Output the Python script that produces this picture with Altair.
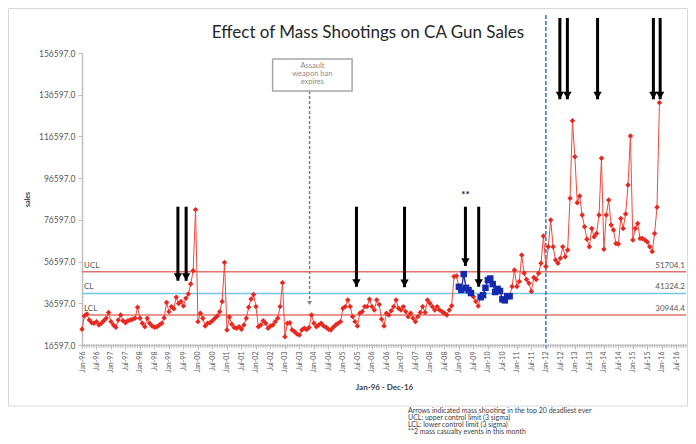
import altair as alt
import pandas as pd

# ---------------- data (monthly CA gun sales, thousands) ----------------
SALES_K = [
    # 1996
    24.1, 30.5, 31.5, 28.6, 27.3, 27.0, 27.8, 26.2, 27.0, 28.2, 29.4, 32.2,
    # 1997
    27.8, 26.2, 25.1, 28.6, 31.0, 28.2, 27.3, 28.2, 28.6, 28.9, 29.4, 34.7,
    # 1998
    29.4, 27.0, 25.4, 29.4, 27.0, 25.7, 25.1, 25.4, 26.2, 27.0, 29.5, 37.0,
    # 1999
    32.5, 35.0, 34.0, 39.5, 36.5, 37.5, 35.3, 39.0, 41.0, 45.8, 52.2, 81.5,
    # 2000
    27.8, 31.8, 29.4, 25.7, 27.0, 27.3, 28.2, 29.4, 30.5, 32.5, 37.5, 56.1,
    # 2001
    23.8, 30.0, 26.5, 25.0, 24.6, 25.4, 24.1, 26.2, 29.4, 34.7, 38.7, 40.8,
    # 2002
    35.0, 25.4, 26.2, 28.2, 27.0, 24.6, 25.7, 26.2, 27.8, 29.4, 35.0, 46.4,
    # 2003
    20.6, 27.0, 27.3, 23.8, 23.0, 21.9, 21.4, 23.8, 24.6, 24.0, 25.0, 31.0,
    # 2004
    27.0, 25.4, 26.2, 27.0, 25.7, 25.1, 24.1, 23.8, 25.1, 26.2, 27.0, 27.8,
    # 2005
    34.2, 35.0, 38.2, 35.0, 30.2, 27.8, 25.7, 31.8, 32.6, 35.0, 35.0, 38.5,
    # 2006
    35.0, 33.4, 38.2, 36.0, 29.0, 25.7, 31.8, 31.0, 33.0, 35.0, 38.2, 34.2,
    # 2007
    33.4, 35.0, 32.6, 30.2, 31.8, 29.4, 27.8, 30.2, 32.2, 35.0, 32.2, 38.2,
    # 2008
    36.6, 35.0, 33.4, 35.0, 33.4, 32.6, 31.8, 31.0, 33.4, 35.4, 49.4, 49.7,
    # 2009
    44.5, 43.0, 50.6, 44.0, 42.9, 41.5, 39.7, 37.4, 35.3, 39.5, 40.5, 44.0,
    # 2010
    47.7, 48.5, 45.8, 42.0, 43.5, 42.5, 38.5, 38.0, 40.0, 40.0, 44.6, 52.6,
    # 2011
    44.6, 47.0, 59.7, 51.0, 48.0, 46.2, 42.2, 49.0, 48.0, 51.0, 55.8, 68.9,
    # 2012
    54.2, 63.7, 76.5, 63.7, 57.4, 55.8, 58.2, 63.7, 58.9, 62.1, 86.9, 124.1,
    # 2013
    106.9, 84.8, 88.0, 78.9, 73.3, 67.3, 63.7, 72.5, 68.5, 70.1, 78.9, 106.1,
    # 2014
    62.5, 78.9, 86.1, 74.1, 71.7, 65.3, 65.0, 77.3, 72.5, 79.4, 93.3, 116.8,
    # 2015
    66.9, 72.5, 74.9, 67.7, 67.7, 66.9, 66.0, 63.7, 61.4, 70.1, 82.6, 132.8,
]

# runs of special-cause points (blue squares): (first month index, last month index)
BLUE_RUNS = [(156, 161), (165, 177)]

# control limits
LIMIT_NAMES = ["UCL", "CL", "LCL"]
LIMIT_VALUES = [51704.1, 41324.2, 30944.4]
LIMIT_COLORS = ["#e2736b", "#72c8e6", "#e2736b"]

# x tick labels every 6 months from Jan-96 to Jul-16
TICK_LABELS = [f"{m}-{y % 100:02d}" for y in range(1996, 2017) for m in ("Jan", "Jul")]
Y_TICKS = [16597, 36597, 56597, 76597, 96597, 116597, 136597, 156597]

# mass shooting arrows: month index, arrow top value, arrow tip value
ARROW_MONTH = [39.7, 43.1, 113.6, 133.5, 158.7, 164.2, 197.8, 200.9, 213.4, 236.5, 239.3]
ARROW_TOP = [82900, 82900, 82900, 82900, 82900, 82900, 173400, 173400, 173400, 173400, 173400]
ARROW_TIP = [47400, 47400, 44500, 44300, 54500, 44500, 134400, 134400, 134400, 134400, 134400]

# "assault weapon ban expires" annotation
AWB_MONTH = 94.2
AWB_BOX = [78.9, 111.8, 153700, 138400]   # x1, x2, y1, y2 (data space)
AWB_TEXT_TOP = 152300
AWB_TIP = 35800
AWB_TEXT = ["Assault", "weapon ban", "expires"]

JAN12 = 192
NOTES = [
    "Arrows indicated mass shooting in the top 20 deadliest ever",
    "UCL: upper control limit (3 sigma)",
    "LCL: lower control limit (3 sigma)",
    "**2 mass casualty events in this month",
]

# ---------------- tables ----------------
df = pd.DataFrame({"m": range(len(SALES_K)), "sales": [v * 1000 for v in SALES_K]})
df["run"] = -1
for k, (a, b) in enumerate(BLUE_RUNS):
    df.loc[(df.m >= a) & (df.m <= b), "run"] = k
df["blue"] = df.run >= 0

lim = pd.DataFrame({"name": LIMIT_NAMES, "value": LIMIT_VALUES, "color": LIMIT_COLORS,
                    "label": [f"{v:.1f}" for v in LIMIT_VALUES]})
arrows = pd.DataFrame({"m": ARROW_MONTH, "top": ARROW_TOP, "tip": ARROW_TIP})
months = pd.DataFrame({"m": list(range(0, 251))})

W, H = 604, 292
FONT = "Lato"
XS = alt.Scale(domain=[0, 250], nice=False, zero=False)
YS = alt.Scale(domain=[16597, 156597], nice=False, zero=False)

label_expr = "[" + ",".join(f"'{t}'" for t in TICK_LABELS) + "][floor(datum.value/6)]"

XA = alt.Axis(values=list(range(0, 247, 6)), labelExpr=label_expr, labelAngle=270,
              labelFont=FONT, labelFontSize=7, labelColor="#595959", labelPadding=2,
              tickSize=4, tickColor="#bfbfbf", domainColor="#bfbfbf", domainWidth=1.5,
              grid=False, title="Jan-96 - Dec-16", titleFont=FONT, titleFontSize=8,
              titleFontWeight="bold", titleColor="#404040", titleY=42,
              titleBaseline="middle")
YA = alt.Axis(values=Y_TICKS, format=".1f", labelFont=FONT, labelFontSize=8.5,
              labelColor="#595959", labelPadding=3, tickSize=4, tickColor="#bfbfbf",
              domainColor="#bfbfbf", domainWidth=1.5, grid=False, title="sales",
              titleFont=FONT, titleFontSize=7, titleFontWeight="bold",
              titleColor="#404040", titleX=-55, titleY=H / 2, titleAngle=270,
              titleAlign="center", titleBaseline="middle")


def X(field):
    return alt.X(field, type="quantitative", scale=XS, axis=XA)


def Y(field):
    return alt.Y(field, type="quantitative", scale=YS, axis=YA)


one = pd.DataFrame({"a": [0]})

frame = alt.Chart(one).mark_rect(fill=None, stroke="#d9d9d9", strokeWidth=1).encode(
    x=alt.value(-73.5), x2=alt.value(W + 1.5), y=alt.value(-44.5), y2=alt.value(353)
)

limit_rules = alt.Chart(lim).mark_rule(strokeWidth=1.5).encode(
    y=Y("value"), color=alt.Color("color:N", scale=None)
)
limit_left = alt.Chart(lim).mark_text(align="left", baseline="middle", dx=2, dy=-6,
                                      font=FONT, fontSize=8, color="#595959").encode(
    x=alt.value(0), y=Y("value"), text="name:N")
limit_right = alt.Chart(lim).mark_text(align="right", baseline="middle", dx=-1, dy=-6,
                                       font=FONT, fontSize=8, color="#595959").encode(
    x=alt.value(W), y=Y("value"), text="label:N")

vline = alt.Chart(pd.DataFrame({"m": [JAN12], "y1": [174800], "y2": [15000]})).mark_rule(
    color="#3f7fc0", strokeWidth=1.6, strokeDash=[4, 2]
).encode(x=X("m"), y=Y("y1"), y2="y2")

red_line = alt.Chart(df).mark_line(color="#f0493e", strokeWidth=1).encode(
    x=X("m"), y=Y("sales"))

blue_line = alt.Chart(df).transform_filter("datum.blue").mark_line(
    color="#1b2fb5", strokeWidth=1.2).encode(x=X("m"), y=Y("sales"), detail="run:N")

red_pts = alt.Chart(df).transform_filter("!datum.blue").mark_point(
    shape="diamond", filled=True, size=30, color="#e8281e", opacity=1).encode(
    x=X("m"), y=Y("sales"))
blue_pts = alt.Chart(df).transform_filter("datum.blue").mark_point(
    shape="square", filled=True, size=42, color="#1329b0", opacity=1).encode(
    x=X("m"), y=Y("sales"))

month_ticks = alt.Chart(months).mark_rule(color="#bfbfbf", strokeWidth=1).encode(
    x=X("m"), y=alt.value(H - 1), y2=alt.value(H + 3))

# assault weapon ban annotation
awb = pd.DataFrame({"x1": [AWB_BOX[0]], "x2": [AWB_BOX[1]], "y1": [AWB_BOX[2]], "y2": [AWB_BOX[3]],
                    "m": [AWB_MONTH], "tip": [AWB_TIP],
                    "xc": [(AWB_BOX[0] + AWB_BOX[1]) / 2], "yt": [AWB_TEXT_TOP]})
awb_box = alt.Chart(awb).mark_rect(fill="white", stroke="#a6a6a6", strokeWidth=1.5).encode(
    x=X("x1"), x2="x2", y=Y("y1"), y2="y2")
awb_text = alt.Chart(awb).mark_text(font=FONT, fontSize=7.5, color="#8c8c8c", lineHeight=7.8,
                                    baseline="top", align="center").encode(
    x=X("xc"), y=Y("yt"), text=alt.value(AWB_TEXT))
awb_line = alt.Chart(awb).mark_rule(color="#7f7f7f", strokeWidth=1.5, strokeDash=[3, 2]).encode(
    x=X("m"), y=Y("y2"), y2="tip")
awb_head = alt.Chart(awb).mark_point(shape="triangle-down", filled=True, size=22,
                                     color="#7f7f7f", opacity=1, yOffset=-2).encode(
    x=X("m"), y=Y("tip"))

arrow_rules = alt.Chart(arrows).mark_rule(color="black", strokeWidth=3).encode(
    x=X("m"), y=Y("top"), y2=alt.Y2("tip"))
arrow_heads = alt.Chart(arrows).mark_point(shape="triangle-down", filled=True, size=70,
                                           color="black", opacity=1, yOffset=-4).encode(
    x=X("m"), y=Y("tip"))

star = alt.Chart(pd.DataFrame({"m": [158.7], "v": [88500], "t": ["**"]})).mark_text(
    font=FONT, fontSize=10, fontWeight="bold", color="#222222").encode(
    x=X("m"), y=Y("v"), text="t:N")

title = alt.Chart(one).mark_text(font=FONT, fontSize=17, color="#262626", align="center",
                                 baseline="middle").encode(
    x=alt.value(286), y=alt.value(-20), text=alt.value("Effect of Mass Shootings on CA Gun Sales"))

notes = alt.Chart(one).mark_text(font=FONT, fontSize=7, color="#404040", align="left",
                                 baseline="top", lineHeight=7.3).encode(
    x=alt.value(326), y=alt.value(353.5), text=alt.value(NOTES))

chart = alt.layer(
    frame, limit_rules, vline, month_ticks, red_line, blue_line, red_pts, blue_pts,
    limit_left, limit_right, awb_line, awb_head, awb_box, awb_text,
    arrow_rules, arrow_heads, star, title, notes,
).properties(
    width=W, height=H,
    autosize=alt.AutoSizeParams(type="none"),
    padding={"left": 74, "top": 45, "right": 2, "bottom": 91},
).configure_view(stroke=None)

chart.save("out.html", embed_options={"renderer": "svg", "actions": False})
